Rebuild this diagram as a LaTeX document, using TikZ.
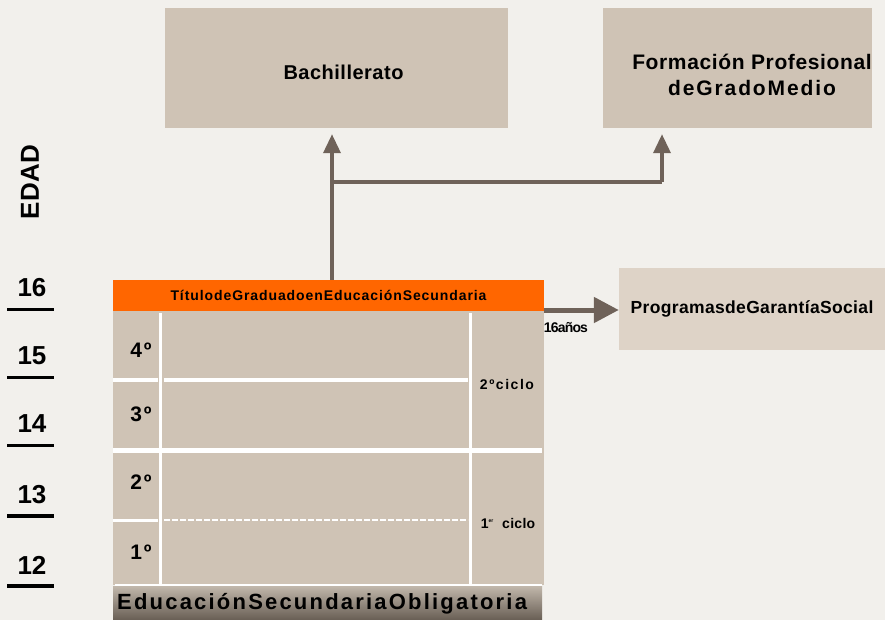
\documentclass[tikz,border=0pt]{standalone}
\usepackage{fontspec}
\setmainfont{Liberation Sans}
\usepackage{tikz}
\usetikzlibrary{arrows.meta}
\definecolor{fondo}{RGB}{242,240,236}
\definecolor{arena}{RGB}{207,195,181}
\definecolor{arenaclara}{RGB}{222,211,199}
\definecolor{naranja}{RGB}{255,102,0}
\definecolor{pardo}{RGB}{111,98,89}
\definecolor{pardoclaro}{RGB}{192,182,170}
\definecolor{pardooscuro}{RGB}{104,94,84}

\begin{document}
\begin{tikzpicture}[x=1pt, y=-1pt]
		\tikzstyle{every node}=[font=\bfseries, inner sep=0pt]
		\tikzstyle{caja}=[fill=arena, align=center]
		\tikzstyle{flecha}=[draw=pardo, line width=3.5pt, -{Triangle[width=17pt,length=19pt]}]
		\tikzstyle{blanca}=[draw=white, line width=3pt]
		\tikzstyle{edad}=[font=\bfseries\fontsize{26}{26}\selectfont]
		\tikzstyle{curso}=[font=\bfseries\fontsize{21}{21}\selectfont\addfontfeature{LetterSpace=8}]
		\tikzstyle{ciclo}=[font=\bfseries\fontsize{14}{14}\selectfont\addfontfeature{LetterSpace=11}]
		
		\fill[fondo] (0,0) rectangle (885,620);
		
		% destinos
		\node[caja, minimum width=343pt, minimum height=120pt] (bach) at (336.5,68) {};
		\node[font=\bfseries\fontsize{20}{20}\selectfont\addfontfeature{LetterSpace=2.5}] (bachtxt) at (343.5,72) {Bachillerato};
		\node[caja, minimum width=269pt, minimum height=120pt] (fp) at (737.5,68) {};
		\node[align=center, font=\bfseries\fontsize{21}{26}\selectfont\addfontfeature{LetterSpace=3}] (fptxt) at (752,75) {Formación Profesional\\{\addfontfeature{LetterSpace=9}deGradoMedio}};
		\node[caja, fill=arenaclara, minimum width=266pt, minimum height=82pt, font=\bfseries\fontsize{17.5}{17.5}\selectfont\addfontfeature{LetterSpace=2}] (pgs) at (752,309) {ProgramasdeGarantíaSocial};
		
		% bloque de la ESO
		\fill[arena] (113,311) rectangle (544,585);
		\node[fill=naranja, minimum width=431pt, minimum height=31pt, font=\bfseries\fontsize{14}{14}\selectfont\addfontfeature{LetterSpace=6.5}] (titulo) at (328.5,295.5) {TítulodeGraduadoenEducaciónSecundaria};
		\draw[blanca] (160.5,313) -- (160.5,584);
		\draw[blanca] (470,313) -- (470,584);
		\draw[blanca, line width=4pt] (113,380) -- (158,380);
		\draw[blanca, line width=4pt] (164,380) -- (468,380);
		\draw[blanca, line width=4.5pt] (113,450.5) -- (542,450.5);
		\draw[blanca] (113,520) -- (158,520);
		\draw[blanca, line width=2pt, dash pattern=on 6pt off 2pt] (164,519.5) -- (468,519.5);
		\draw[blanca, line width=2.5pt] (115,585) -- (542,585);
		\shade[top color=pardoclaro, bottom color=pardooscuro] (113,586.5) rectangle (542,620);
		\node[anchor=west, font=\bfseries\fontsize{22}{22}\selectfont\addfontfeature{LetterSpace=10}] (eso) at (117,604) {EducaciónSecundariaObligatoria};
		
		\node[curso] (c4) at (141,350) {4º};
		\node[curso] (c3) at (141,414) {3º};
		\node[curso] (c2) at (141,482) {2º};
		\node[curso] (c1) at (141,552) {1º};
		\node[ciclo] (ciclo2) at (507,384) {2ºciclo};
		\node[ciclo, font=\bfseries\fontsize{14}{14}\selectfont\addfontfeature{LetterSpace=2}] (ciclo1) at (508,523) {1\textsuperscript{\tiny er}\ \ ciclo};
		
		% edades
		\node[rotate=90, font=\bfseries\fontsize{26}{26}\selectfont\addfontfeature{LetterSpace=2}] (edadtit) at (30,182) {EDAD};
		\foreach \e/\y/\w in {16/288/3, 15/356/3, 14/424/3, 13/495/4.5, 12/565/4.5} {
			\node[edad] (a\e) at (32,\y) {\e};
			\draw[line width=\w pt] (7,\y+21) -- (54,\y+21);
		}
		
		% salidas
		\coordinate (nudo) at (332,182);
		\draw[flecha, shorten >=6pt] (nudo |- titulo.north) -- (nudo |- bach.south);
		\draw[flecha, -{}] (nudo) -- (662,182) coordinate (nudo2);
		\draw[flecha, shorten >=6pt] (nudo2) -- (nudo2 |- fp.south);
		\draw[flecha, line width=5pt, -{Triangle[width=25pt,length=25pt]}] (titulo.east |- 0,310) -- (pgs.west |- 0,310);
		\node[font=\bfseries\fontsize{14}{14}\selectfont\addfontfeature{LetterSpace=-6}] (anos) at (566,328) {16años};
	\end{tikzpicture}
\end{document}
